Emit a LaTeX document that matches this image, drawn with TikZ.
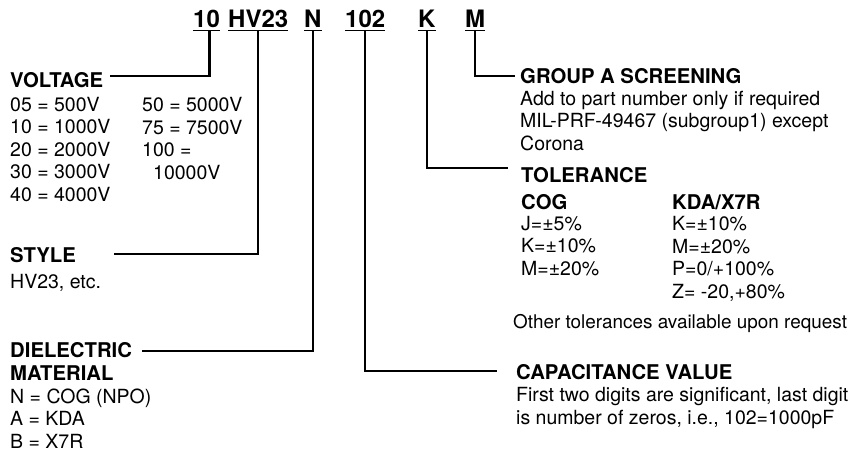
\documentclass[tikz,border=0pt]{standalone}
\usepackage{fontspec}
\setmainfont{TeX Gyre Heros}
\usepackage{tikz}

\tikzset{
  code/.style={font=\fontsize{24}{28}\selectfont\bfseries, inner sep=0pt, anchor=base west, text depth=3.5pt},
  uline/.style={line width=1.4pt},
  leader/.style={line width=2.2pt},
  head/.style={font=\fontsize{20.3}{23}\selectfont\bfseries, inner sep=0pt, anchor=base west, text height=14pt, text depth=0pt},
  body/.style={font=\fontsize{19.5}{22.4}\selectfont, inner sep=0pt, anchor=base west, align=left},
}

\begin{document}
\begin{tikzpicture}[x=1pt,y=-1pt]
\useasboundingbox (0,0) rectangle (859,451);
% part number
\node[code] (c10) at (193,27) {10};
\node[code] (cHV) at (228,27) {HV23};
\node[code] (cN) at (304,27) {N};
\node[code] (c102) at (345,27) {102};
\node[code] (cK) at (418,27) {K};
\node[code] (cM) at (465,27) {M};
\foreach \c in {c10,cHV,cN,c102,cK,cM}
  \draw[uline] (\c.south west) -- (\c.south east);

% left side (multi-line nodes sit on their last baseline)
\node[head] (volt) at (10,87) {VOLTAGE};
\node[body] (voltA) at (10,201) {05 = 500V\\10 = 1000V\\20 = 2000V\\30 = 3000V\\40 = 4000V};
\node[body] (voltB) at (142,179) {50 = 5000V\\75 = 7500V\\100 =\\\hspace*{11pt}10000V};
\node[head] (style) at (10,262) {STYLE};
\node[body] (styleB) at (10,288) {HV23, etc.};
\node[head, align=left, text height=, text depth=] (diel) at (10,380) {DIELECTRIC\\MATERIAL};
\node[body] (dielB) at (10,448) {N = COG (NPO)\\A = KDA\\B = X7R};

% right side
\node[head] (grp) at (520,83) {GROUP A SCREENING};
\node[body] (grpB) at (520,150) {Add to part number only if required\\MIL-PRF-49467 (subgroup1) except\\Corona};
\node[head] (tol) at (521,182) {TOLERANCE};
\node[head] (cog) at (521,209) {COG};
\node[head] (kda) at (672,209) {KDA/X7R};
\node[body] (cogB) at (521,275) {J=±5\%\\K=±10\%\\M=±20\%};
\node[body] (kdaB) at (672,298) {K=±10\%\\M=±20\%\\P=0/+100\%\\Z= -20,+80\%};
\node[body, font=\fontsize{18.9}{22.4}\selectfont] (other) at (513,328) {Other tolerances available upon request};
\node[head] (cap) at (516,379) {CAPACITANCE VALUE};
\node[body] (capB) at (516,424) {First two digits are significant, last digit\\is number of zeros, i.e., 102=1000pF};

% leaders
\draw[leader] ([xshift=3pt]c10.south) |- ([xshift=7pt,yshift=4pt]volt.east);
\draw[leader] (cHV.south) |- ([xshift=38pt,yshift=1pt]style.east);
\draw[leader] (cN.south) |- ([xshift=10pt,yshift=-9pt]diel.north east);
\draw[leader] (c102.south) |- ([xshift=-19pt,yshift=1pt]cap.west);
\draw[leader] (cK.south) |- ([xshift=-13pt,yshift=7pt]tol.west);
\draw[leader] (cM.south) |- ([xshift=-5pt]grp.west);
\end{tikzpicture}
\end{document}
